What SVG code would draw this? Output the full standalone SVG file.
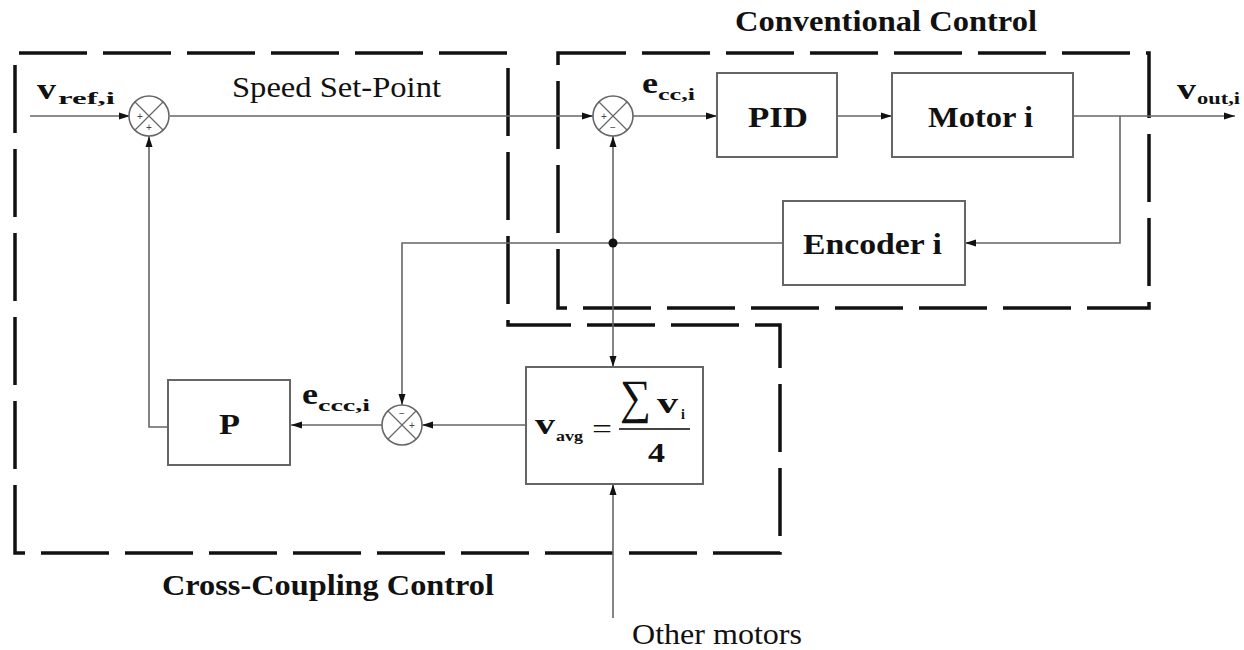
<svg xmlns="http://www.w3.org/2000/svg" width="1244" height="650" viewBox="0 0 1244 650">
<defs>
<marker id="arr" markerUnits="userSpaceOnUse" markerWidth="12" markerHeight="8" refX="11" refY="4" orient="auto">
<path d="M0,0.5 L11,4 L0,7.5 z" fill="#111"/>
</marker>
<style>
.dash{fill:none;stroke:#111;stroke-width:3.5;stroke-dasharray:68 16}
.box{fill:#fff;stroke:#666;stroke-width:2}
.wire{fill:none;stroke:#666;stroke-width:1.6}
.sum{fill:#fff;stroke:#666;stroke-width:1.6}
.x{stroke:#666;stroke-width:1.2}
.t{font-family:"Liberation Serif","Times New Roman",serif;fill:#111}
.b{font-weight:bold}
.sg{font-family:"Liberation Sans",sans-serif;font-size:10px;fill:#444;text-anchor:middle}
</style>
</defs>
<rect width="1244" height="650" fill="#fff"/>

<g id="regions">
<path class="dash" d="M15,553 L15,53 L508,53 L508,325 L780,325 L780,553 Z"/>
<rect class="dash" x="558" y="53" width="591" height="255"/>
</g>

<g id="titles">
<text class="t b" x="735" y="31" font-size="29" textLength="302" lengthAdjust="spacingAndGlyphs">Conventional Control</text>
<text class="t b" x="162" y="595" font-size="29" textLength="332" lengthAdjust="spacingAndGlyphs">Cross-Coupling Control</text>
<text class="t" x="232" y="97" font-size="29" textLength="209" lengthAdjust="spacingAndGlyphs">Speed Set-Point</text>
<text class="t" x="632" y="644" font-size="29" textLength="170" lengthAdjust="spacingAndGlyphs">Other motors</text>
</g>

<g id="connectors">
<path class="wire" d="M30,116 H130" marker-end="url(#arr)"/>
<path class="wire" d="M170,116 H593" marker-end="url(#arr)"/>
<path class="wire" d="M633,116 H717" marker-end="url(#arr)"/>
<path class="wire" d="M837,116 H892" marker-end="url(#arr)"/>
<path class="wire" d="M1073,116 H1235" marker-end="url(#arr)"/>
<path class="wire" d="M1120,116 V243 H965" marker-end="url(#arr)"/>
<path class="wire" d="M783,243 H402 V405" marker-end="url(#arr)"/>
<path class="wire" d="M613,243 V136" marker-end="url(#arr)"/>
<path class="wire" d="M613,243 V367" marker-end="url(#arr)"/>
<path class="wire" d="M613,618 V484" marker-end="url(#arr)"/>
<path class="wire" d="M526,425 H422" marker-end="url(#arr)"/>
<path class="wire" d="M382,425 H291" marker-end="url(#arr)"/>
<path class="wire" d="M168,427 H149 V136" marker-end="url(#arr)"/>
<circle cx="613" cy="243" r="4.5" fill="#111"/>
</g>

<g id="labels">
<text class="t b" x="37" y="99" font-size="30" textLength="19" lengthAdjust="spacingAndGlyphs">v</text>
<text class="t b" x="58" y="104" font-size="17" textLength="57" lengthAdjust="spacingAndGlyphs">ref,i</text>
<text class="t b" x="642" y="93" font-size="30" textLength="16" lengthAdjust="spacingAndGlyphs">e</text>
<text class="t b" x="658" y="100" font-size="17" textLength="37" lengthAdjust="spacingAndGlyphs">cc,i</text>
<text class="t b" x="1177" y="99" font-size="30" textLength="19" lengthAdjust="spacingAndGlyphs">v</text>
<text class="t b" x="1197" y="104" font-size="17" textLength="43" lengthAdjust="spacingAndGlyphs">out,i</text>
<text class="t b" x="302" y="404" font-size="30" textLength="16" lengthAdjust="spacingAndGlyphs">e</text>
<text class="t b" x="318" y="411" font-size="17" textLength="52" lengthAdjust="spacingAndGlyphs">ccc,i</text>
</g>

<g id="sum1">
<circle class="sum" cx="149" cy="116" r="20"/>
<path class="x" d="M135,102 L163,130 M163,102 L135,130"/>
<text class="sg" x="140" y="120">+</text>
<text class="sg" x="149" y="131">+</text>
</g>

<g id="sum2">
<circle class="sum" cx="613" cy="116" r="20"/>
<path class="x" d="M599,102 L627,130 M627,102 L599,130"/>
<text class="sg" x="604" y="120">+</text>
<text class="sg" x="613" y="131">−</text>
</g>

<g id="sum3">
<circle class="sum" cx="402" cy="425" r="20"/>
<path class="x" d="M388,411 L416,439 M416,411 L388,439"/>
<text class="sg" x="402" y="417">−</text>
<text class="sg" x="412" y="429">+</text>
</g>

<g id="pid">
<rect class="box" x="717" y="73" width="120" height="84"/>
<text class="t b" x="748" y="127" font-size="30" textLength="60" lengthAdjust="spacingAndGlyphs">PID</text>
</g>

<g id="motor">
<rect class="box" x="892" y="73" width="181" height="84"/>
<text class="t b" x="928" y="127" font-size="30" textLength="105" lengthAdjust="spacingAndGlyphs">Motor i</text>
</g>

<g id="encoder">
<rect class="box" x="783" y="201" width="182" height="84"/>
<text class="t b" x="803" y="254" font-size="30" textLength="139" lengthAdjust="spacingAndGlyphs">Encoder i</text>
</g>

<g id="p">
<rect class="box" x="168" y="380" width="122" height="85"/>
<text class="t b" x="219" y="434" font-size="30" textLength="21" lengthAdjust="spacingAndGlyphs">P</text>
</g>

<g id="avg">
<rect class="box" x="526" y="367" width="177" height="117"/>
<text class="t b" x="535" y="434" font-size="30" textLength="20" lengthAdjust="spacingAndGlyphs">v</text>
<text class="t b" x="556" y="441" font-size="15" textLength="27" lengthAdjust="spacingAndGlyphs">avg</text>
<text class="t" x="592" y="438" font-size="28" textLength="20" lengthAdjust="spacingAndGlyphs">=</text>
<text class="t" x="620" y="413" font-size="48" textLength="31" lengthAdjust="spacingAndGlyphs" font-family="'Liberation Serif','DejaVu Serif',serif">∑</text>
<text class="t b" x="657" y="413" font-size="30" textLength="21" lengthAdjust="spacingAndGlyphs">v</text>
<text class="t b" x="681" y="419" font-size="14">i</text>
<line x1="619" y1="429" x2="690" y2="429" stroke="#444" stroke-width="1.8"/>
<text class="t b" x="648" y="462" font-size="28" textLength="17" lengthAdjust="spacingAndGlyphs">4</text>
</g>
</svg>
